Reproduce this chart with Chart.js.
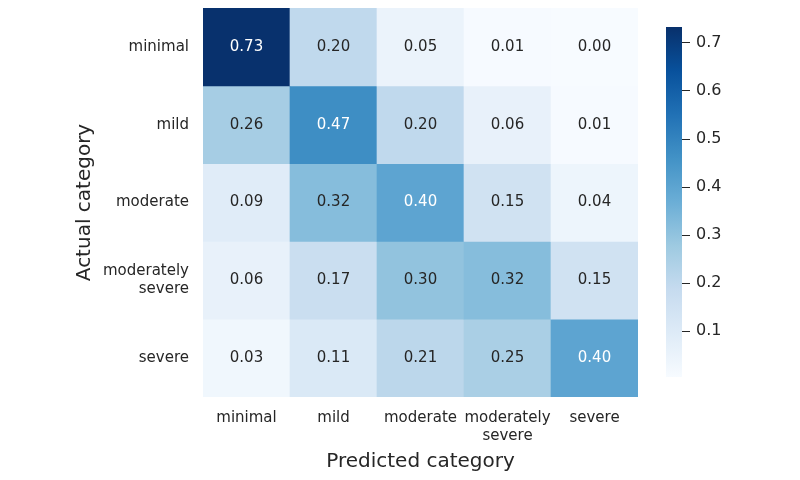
<!DOCTYPE html>
<html>
<head>
<meta charset="utf-8">
<script src="https://cdn.jsdelivr.net/npm/chart.js@4.4.0/dist/chart.umd.min.js"></script>
<style>
  body { margin: 0; background: #fff; }
  #wrap { position: relative; width: 800px; height: 480px; }
  #heat { position: absolute; left: 0; top: 0; }
  #cbar { position: absolute; left: 640px; top: 0; }
</style>
</head>
<body>
<div id="wrap">
  <canvas id="heat" width="800" height="480"></canvas>
  <canvas id="cbar" width="160" height="480"></canvas>
</div>
<script>
// categories (columns = predicted, rows = actual)
const predicted = ['minimal', 'mild', 'moderate', ['moderately', 'severe'], 'severe'];
const actual = ['minimal', 'mild', 'moderate', ['moderately', 'severe'], 'severe'];

// one row of the confusion matrix per actual category
const rowMinimal = [0.73, 0.20, 0.05, 0.01, 0.00];
const rowMild = [0.26, 0.47, 0.20, 0.06, 0.01];
const rowModerate = [0.09, 0.32, 0.40, 0.15, 0.04];
const rowModSevere = [0.06, 0.17, 0.30, 0.32, 0.15];
const rowSevere = [0.03, 0.11, 0.21, 0.25, 0.40];
const matrix = [rowMinimal, rowMild, rowModerate, rowModSevere, rowSevere];

// colorbar
const colorbarTicks = [0.1, 0.2, 0.3, 0.4, 0.5, 0.6, 0.7];
const colorMin = 0.005;
const colorMax = 0.733;

const textDark = '#262626';
const font = '"DejaVu Sans", sans-serif';

// matplotlib "Blues"
const blues = [
    [0.0, '#f7fbff'], [0.125, '#deebf7'], [0.25, '#c6dbef'], [0.375, '#9ecae1'],
    [0.5, '#6baed6'], [0.625, '#4292c6'], [0.75, '#2171b5'], [0.875, '#08519c'], [1.0, '#08306b']
];

function hexToRgb(h) {
    return [1, 3, 5].map(i => parseInt(h.slice(i, i + 2), 16));
}

function cellRgb(v) {
    let t = (v - colorMin) / (colorMax - colorMin);
    t = Math.max(0, Math.min(1, t));
    for (let i = 0; i < blues.length - 1; i++) {
        const [t0, c0] = blues[i];
        const [t1, c1] = blues[i + 1];
        if (t <= t1) {
            const f = (t - t0) / (t1 - t0);
            const a = hexToRgb(c0), b = hexToRgb(c1);
            return a.map((x, k) => Math.round(x + (b[k] - x) * f));
        }
    }
    return hexToRgb(blues[blues.length - 1][1]);
}

function cellColor(v) {
    const c = cellRgb(v);
    return `rgb(${c[0]}, ${c[1]}, ${c[2]})`;
}

// same rule as seaborn: light text on dark cells
function textColor(v) {
    const lin = cellRgb(v).map(x => {
        x = x / 255;
        return x <= 0.03928 ? x / 12.92 : Math.pow((x + 0.055) / 1.055, 2.4);
    });
    const lum = 0.2126 * lin[0] + 0.7152 * lin[1] + 0.0722 * lin[2];
    return lum > 0.408 ? textDark : '#ffffff';
}

const cellText = {
    id: 'cellText',
    afterDatasetsDraw(chart) {
        const ctx = chart.ctx;
        ctx.save();
        ctx.font = '15px ' + font;
        ctx.textAlign = 'center';
        ctx.textBaseline = 'middle';
        matrix.forEach((row, r) => {
            chart.getDatasetMeta(r).data.forEach((bar, c) => {
                const p = bar.getCenterPoint();
                ctx.fillStyle = textColor(row[c]);
                ctx.fillText(row[c].toFixed(2), p.x, p.y);
            });
        });
        ctx.restore();
    }
};

const datasets = matrix.map((row, r) => ({
    label: actual[r],
    data: row.map(() => [r, r + 1]),
    backgroundColor: row.map(v => cellColor(v)),
    borderWidth: 0,
    barPercentage: 1,
    categoryPercentage: 1,
    grouped: false
}));

new Chart(document.getElementById('heat'), {
    type: 'bar',
    data: { labels: predicted, datasets: datasets },
    options: {
        responsive: false,
        animation: false,
        events: [],
        layout: { padding: { left: 0, right: 162, top: 8, bottom: 0 } },
        plugins: { legend: { display: false }, tooltip: { enabled: false } },
        scales: {
            x: {
                type: 'category',
                grid: { display: false, drawTicks: false },
                border: { display: false },
                ticks: {
                    autoSkip: false, maxRotation: 0, minRotation: 0, padding: 12,
                    color: textDark, font: { family: font, size: 15 }
                },
                afterFit: s => { s.height = 83; s.paddingLeft = 0; s.paddingRight = 0; },
                title: {
                    display: true, text: 'Predicted category', color: textDark,
                    font: { family: font, size: 20 }, padding: { top: 0, bottom: 6 }
                }
            },
            y: {
                type: 'linear',
                min: 0,
                max: actual.length,
                reverse: true,
                grid: { display: false, drawTicks: false },
                border: { display: false },
                afterBuildTicks: s => { s.ticks = actual.map((_, i) => ({ value: i + 0.5 })); },
                afterFit: s => { s.width = 203; s.paddingTop = 0; s.paddingBottom = 0; },
                ticks: {
                    padding: 14, color: textDark, font: { family: font, size: 15 },
                    callback: v => actual[Math.floor(v)]
                },
                title: {
                    display: true, text: 'Actual category', color: textDark,
                    font: { family: font, size: 20 }, padding: { top: 73, bottom: 0 }
                }
            }
        }
    },
    plugins: [cellText]
});

function barGradient(context) {
    const chart = context.chart;
    if (!chart.chartArea) return blues[0][1];
    const y = chart.scales.y;
    const g = chart.ctx.createLinearGradient(0, y.getPixelForValue(colorMin), 0, y.getPixelForValue(colorMax));
    blues.forEach(([t, c]) => g.addColorStop(t, c));
    return g;
}

new Chart(document.getElementById('cbar'), {
    type: 'bar',
    data: {
        labels: [''],
        datasets: [{
            data: [[colorMin, colorMax]],
            backgroundColor: barGradient,
            borderWidth: 0,
            barPercentage: 1,
            categoryPercentage: 1
        }]
    },
    options: {
        responsive: false,
        animation: false,
        events: [],
        layout: { padding: { left: 26, right: 0, top: 27, bottom: 103 } },
        plugins: { legend: { display: false }, tooltip: { enabled: false } },
        scales: {
            x: { display: false },
            y: {
                position: 'right',
                min: colorMin,
                max: colorMax,
                border: { display: false },
                grid: { drawOnChartArea: false, drawTicks: true, tickLength: 8, color: textDark, lineWidth: 1 },
                afterBuildTicks: s => { s.ticks = colorbarTicks.map(v => ({ value: v })); },
                afterFit: s => { s.width = 118; s.paddingTop = 0; s.paddingBottom = 0; },
                ticks: {
                    padding: 6, color: textDark, font: { family: font, size: 16 },
                    callback: v => v.toFixed(1)
                }
            }
        }
    }
});
</script>
</body>
</html>
